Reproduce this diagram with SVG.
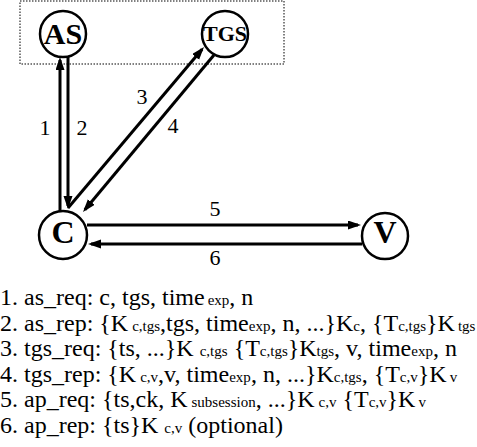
<svg xmlns="http://www.w3.org/2000/svg" width="477" height="447" viewBox="0 0 477 447">
<style>
.node circle{fill:#fff;stroke:#000;stroke-width:2.5}
.node text{font-family:"Liberation Serif","Times New Roman",serif;font-weight:bold;text-anchor:middle;fill:#000}
.conn line{stroke:#000;stroke-width:3;fill:none}
.lbl{font-family:"Liberation Serif","Times New Roman",serif;font-size:22px;fill:#000;text-anchor:middle}
.msg{font-family:"Liberation Serif","Times New Roman",serif;font-size:24px;fill:#000}
.s{font-size:15px}
</style>
<defs>
<marker id="ah" markerUnits="userSpaceOnUse" markerWidth="14" markerHeight="10" refX="10" refY="4.5" orient="auto">
<path d="M0,0 L13,4.5 L0,9 z" fill="#000"/>
</marker>
</defs>
<rect x="20" y="1" width="264" height="63" fill="none" stroke="#000" stroke-width="1" stroke-dasharray="1.5,1.5"/>
<g class="conn">
<line x1="60" y1="211" x2="60" y2="60" marker-end="url(#ah)"/>
<line x1="68" y1="57" x2="68" y2="206" marker-end="url(#ah)"/>
<line x1="68" y1="208" x2="202.1" y2="49.3" marker-end="url(#ah)"/>
<line x1="214" y1="55" x2="84.9" y2="209.7" marker-end="url(#ah)"/>
<line x1="87" y1="225" x2="358" y2="225" marker-end="url(#ah)"/>
<line x1="362" y1="244" x2="91" y2="244" marker-end="url(#ah)"/>
</g>
<g id="node-AS" class="node"><circle cx="63" cy="34" r="23"/><text x="63" y="44" font-size="30">AS</text></g>
<g id="node-TGS" class="node"><circle cx="225" cy="34" r="23"/><text x="225" y="41" font-size="22">TGS</text></g>
<g id="node-C" class="node"><circle cx="63" cy="235" r="24"/><text x="63" y="243" font-size="32">C</text></g>
<g id="node-V" class="node"><circle cx="385" cy="236" r="23"/><text x="385" y="243" font-size="32">V</text></g>
<g id="labels">
<text class="lbl" x="45" y="135">1</text>
<text class="lbl" x="82" y="135">2</text>
<text class="lbl" x="142" y="104">3</text>
<text class="lbl" x="173" y="133">4</text>
<text class="lbl" x="215" y="216">5</text>
<text class="lbl" x="215" y="265">6</text>
</g>
<g id="messages">
<text class="msg" x="0" y="305">1. as_req: c, tgs, time<tspan class="s" dx="3">exp</tspan>, n</text>
<text class="msg" x="0" y="330.5">2. as_rep: {K<tspan class="s" dx="4">c,tgs</tspan>,tgs, time<tspan class="s">exp</tspan>, n, ...}K<tspan class="s">c</tspan>, {T<tspan class="s">c,tgs</tspan>}K<tspan class="s" dx="3">tgs</tspan></text>
<text class="msg" x="0" y="356">3. tgs_req: {ts, ...}K<tspan class="s" dx="6">c,tgs</tspan> {T<tspan class="s">c,tgs</tspan>}K<tspan class="s">tgs</tspan>, v, time<tspan class="s">exp</tspan>, n</text>
<text class="msg" x="0" y="381.5">4. tgs_rep: {K<tspan class="s" dx="4">c,v</tspan>,v, time<tspan class="s">exp</tspan>, n, ...}K<tspan class="s">c,tgs</tspan>, {T<tspan class="s">c,v</tspan>}K<tspan class="s" dx="3">v</tspan></text>
<text class="msg" x="0" y="407">5. ap_req: {ts,ck, K<tspan class="s" dx="4">subsession</tspan>, ...}K<tspan class="s" dx="4">c,v</tspan> {T<tspan class="s">c,v</tspan>}K<tspan class="s" dx="3">v</tspan></text>
<text class="msg" x="0" y="432.5">6. ap_rep: {ts}K<tspan class="s" dx="6">c,v</tspan> (optional)</text>
</g>
</svg>
